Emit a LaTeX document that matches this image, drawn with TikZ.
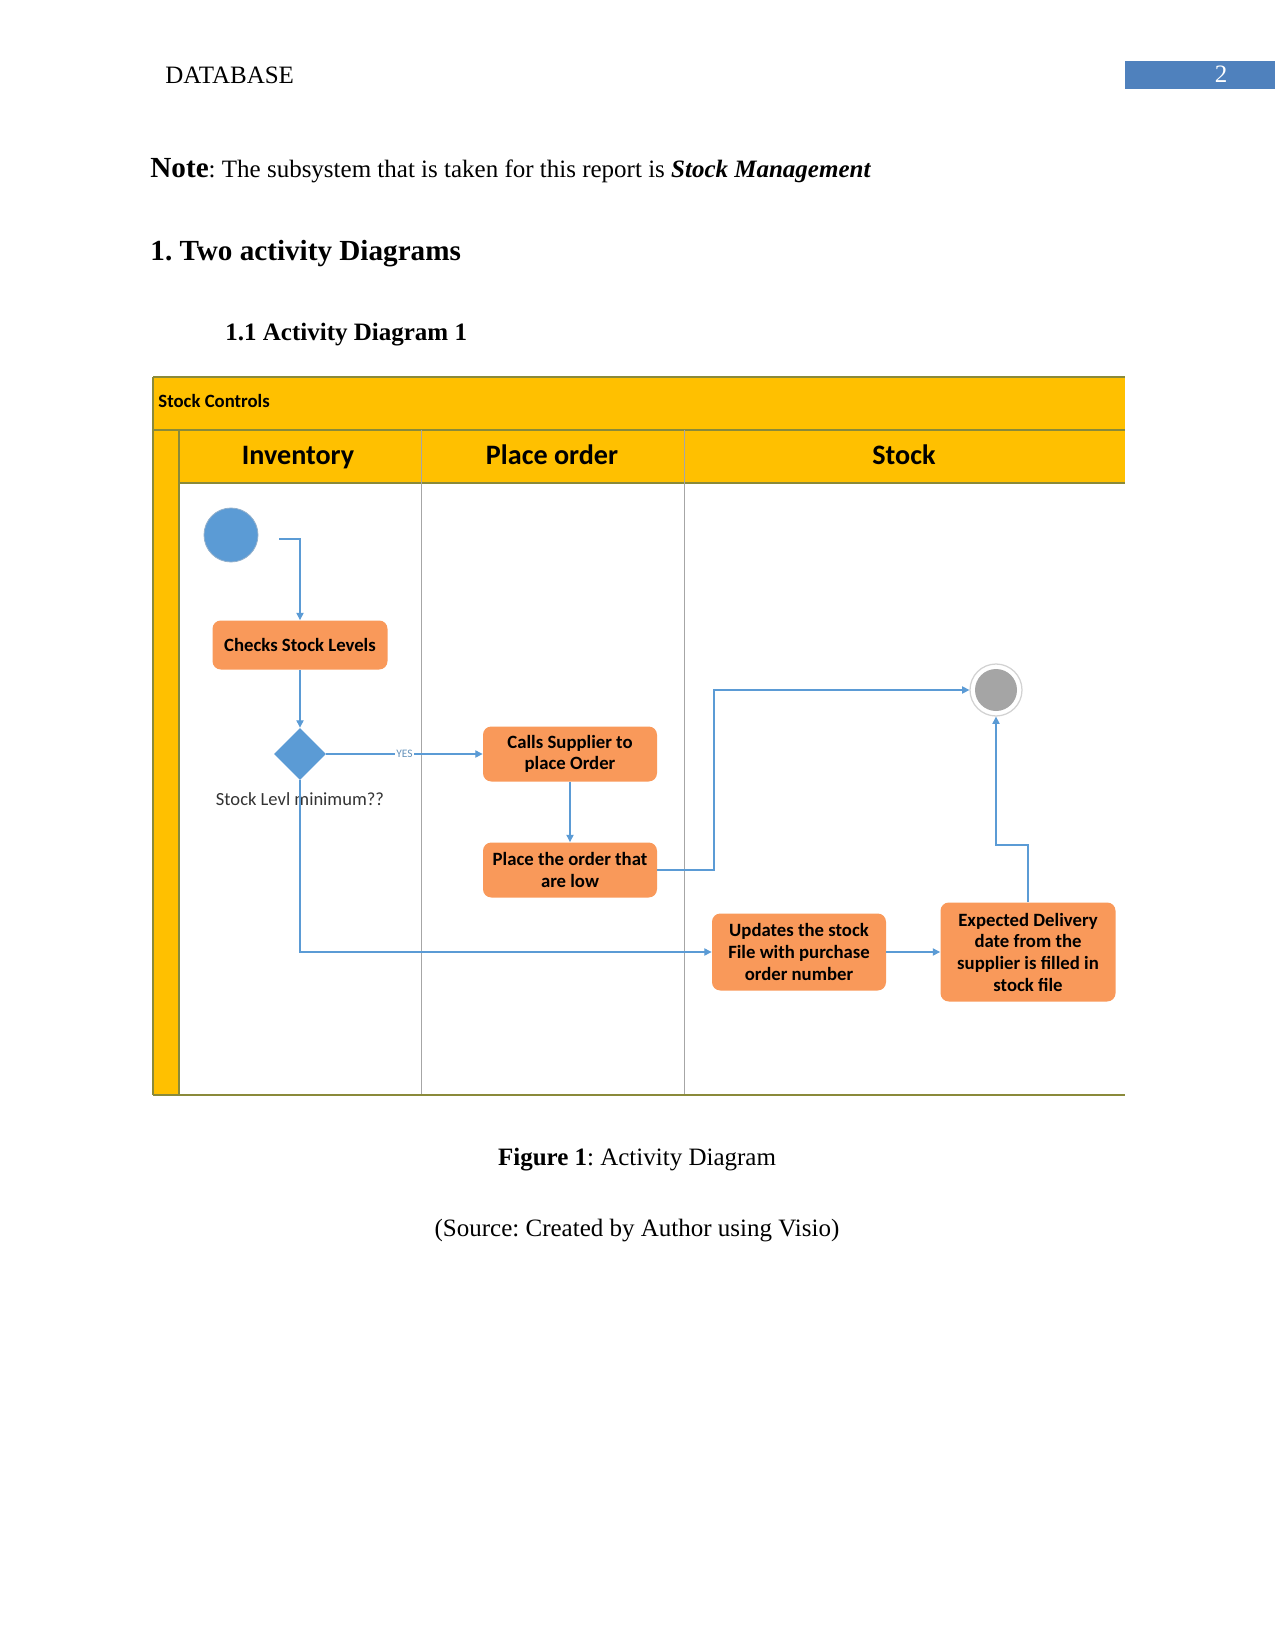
\documentclass[tikz,border=0pt]{standalone}
\usepackage{fontspec}
\setmainfont{Liberation Serif}
\newfontfamily\calib{Carlito}
\usetikzlibrary{shapes.geometric,arrows.meta}
\definecolor{laneyellow}{HTML}{FFC000}
\definecolor{lineolive}{HTML}{8A8A3A}
\definecolor{actorange}{HTML}{F9995A}
\definecolor{flowblue}{HTML}{5B9BD5}
\definecolor{startblue}{HTML}{5B9BD5}
\definecolor{pageblue}{HTML}{4F81BD}
\definecolor{endgrey}{HTML}{A5A5A5}
\frenchspacing
\begin{document}
\begin{tikzpicture}[x=0.48pt,y=-0.48pt,
  act/.style={rectangle, rounded corners=4pt, fill=actorange, draw=none, align=center,
    font=\calib\bfseries\fontsize{9}{10.4}\selectfont, inner sep=1pt},
  flow/.style={draw=flowblue, line width=0.5pt, -{Triangle[width=3.5pt,length=3.5pt]}},
  lane/.style={draw=gray!70, line width=0.4pt},
  olive/.style={draw=lineolive, line width=0.6pt},
  hdr/.style={font=\calib\bfseries\fontsize{13.5}{15}\selectfont, anchor=base},
  body/.style={font=\fontsize{12}{14}\selectfont, anchor=base west, inner sep=0pt}
]
\useasboundingbox (0,0) rectangle (1275,1650);
\fill[white] (0,0) rectangle (1275,1650);

% page header
\node[body] (hdrtitle) at (165,84) {DATABASE};
\fill[pageblue] (1125,61) rectangle (1275,89);
\node[body, anchor=base, text=white] (pagenum) at (1221,83) {2};

% text
\node[body] (note) at (150,178) {{\fontsize{14}{16}\selectfont\bfseries Note}: The subsystem that is taken for this report is \textbf{\textit{Stock Management}}};
\node[body, font=\fontsize{14}{16}\selectfont\bfseries] (sec) at (150,261) {1. Two activity Diagrams};
\node[body, font=\fontsize{12}{14}\selectfont\bfseries] (subsec) at (225,341) {1.1 Activity Diagram 1};

% swimlane frame
\fill[laneyellow] (153,377) rectangle (1125,483);
\fill[laneyellow] (153,483) rectangle (179,1095);
\draw[olive] (153,377) -- (1125,377);
\draw[olive] (153,430) -- (1125,430);
\draw[olive] (179,483) -- (1125,483);
\draw[olive] (153,377) -- (153,1095);
\draw[olive] (179,430) -- (179,1095);
\draw[lane] (421,430) -- (421,1095);
\draw[lane] (684,430) -- (684,1095);
\draw[olive] (153,1095) -- (1125,1095);
\node[anchor=base west, inner sep=0pt, font=\calib\bfseries\fontsize{9}{10}\selectfont] (pool) at (158,408) {Stock Controls};
\node[hdr] (h1) at (298,464) {Inventory};
\node[hdr] (h2) at (552,464) {Place order};
\node[hdr] (h3) at (904,464) {Stock};

% nodes
\node[circle, fill=startblue, draw=startblue!80!black!60, line width=0.4pt, minimum size=54*0.48pt, inner sep=0pt] (start) at (231,535) {};
\node[act, minimum width=175*0.48pt, minimum height=49*0.48pt] (check) at (300,645) {Checks Stock Levels};
\node[diamond, fill=startblue, aspect=1, minimum size=52*0.48pt, inner sep=0pt] (dec) at (300,754) {};
\node[font=\calib\fontsize{8.9}{10}\selectfont, text=black!80, inner sep=0pt] (declabel) at (300,799) {Stock Levl minimum??};
\node[act, minimum width=174*0.48pt, minimum height=55*0.48pt] (calls) at (570,754) {Calls Supplier to\\place Order};
\node[act, minimum width=174*0.48pt, minimum height=55*0.48pt] (place) at (570,870) {Place the order that\\are low};
\node[act, minimum width=174*0.48pt, minimum height=77*0.48pt] (upd) at (799,952) {Updates the stock\\File with purchase\\order number};
\node[act, minimum width=175*0.48pt, minimum height=99*0.48pt] (exp) at (1028,952) {Expected Delivery\\date from the\\supplier is filled in\\stock file};
\node[circle, fill=white, draw=gray!35, line width=0.6pt, minimum size=52*0.48pt, inner sep=0pt] (end) at (996,690) {};
\node[circle, fill=endgrey, minimum size=42*0.48pt, inner sep=0pt] (endin) at (end) {};

% connectors
\coordinate (s1) at (279,539);
\draw[flow] (s1) -| (check.north);
\draw[flow] (check.south) -- (dec.north);
\draw[flow] (dec.east) -- node[pos=0.5, fill=white, inner sep=0.6pt, text=flowblue!70!gray, font=\calib\fontsize{5.5}{6}\selectfont] (yes) {YES} (calls.west);
\draw[flow] (calls.south) -- (place.north);
\coordinate (b1) at (714,870);
\draw[flow] (place.east) -- (b1) |- (end.west);
\draw[flow] (dec.south) |- (upd.west);
\draw[flow] (upd.east) -- (exp.west);
\coordinate (b2) at (1028,845);
\draw[flow] (exp.north) -- (b2) -| (end.south);

% caption
\node[body, anchor=base, font=\fontsize{12}{14}\selectfont] (cap) at (637,1165) {\textbf{Figure 1}: Activity Diagram};
\node[body, anchor=base, font=\fontsize{12}{14}\selectfont] (src) at (637,1236) {(Source: Created by Author using Visio)};
\end{tikzpicture}
\end{document}
